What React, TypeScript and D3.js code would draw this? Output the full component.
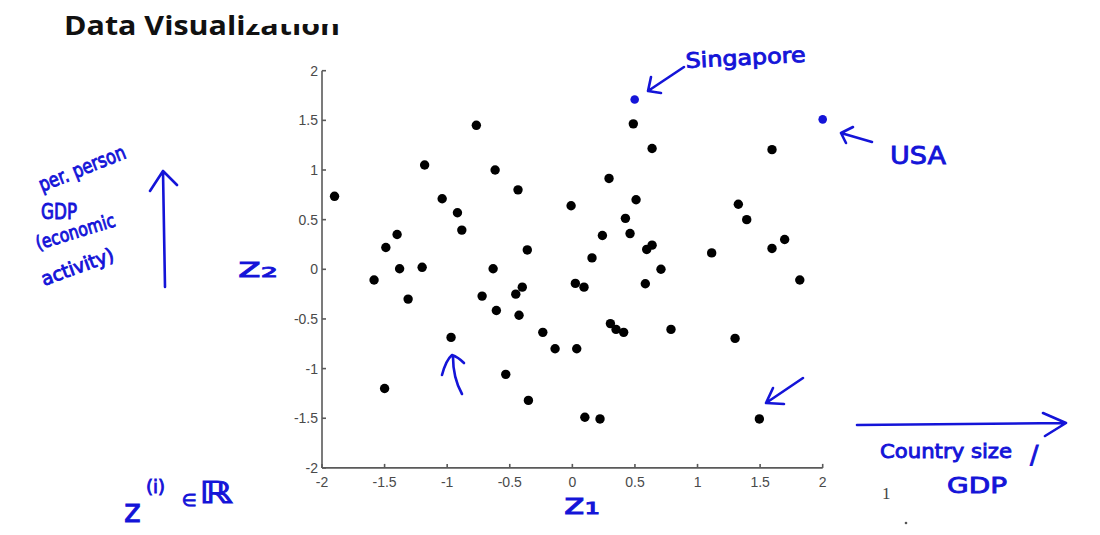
import React from "react";
import * as d3 from "d3";

// Black points: reduced 1-D-ish projection z1, z2 for countries
const z1Values = [
  -1.9, -0.767, -1.18, -0.617, -0.434, -1.04, -0.918, -0.883, -1.4, -1.49,
  -0.36, -1.38, -1.2, -0.633, -0.01, 0.487, 0.637, 1.595, 0.293, 0.509,
  1.326, 0.424, 1.393, 0.24, 0.461, 1.696, 0.157, 0.594, 0.637, 1.595,
  1.113, 0.708, 1.817, -1.584, -1.312, -0.721, -0.4, -0.452, -0.607, -0.426,
  -0.236, -0.138, -0.969, -0.532, -1.5, -0.351, 0.024, 0.093, 0.583, 0.304,
  0.349, 0.41, 0.788, 1.3, 0.035, 0.1, 0.221, 1.494,
];
const z2Values = [
  0.735, 1.45, 1.05, 1.0, 0.8, 0.71, 0.57, 0.395, 0.35, 0.22,
  0.195, 0.006, 0.02, 0.006, 0.64, 1.465, 1.216, 1.205, 0.915, 0.7,
  0.655, 0.513, 0.5, 0.34, 0.36, 0.3, 0.115, 0.2, 0.243, 0.21,
  0.165, 0.0, -0.108, -0.108, -0.3, -0.27, -0.18, -0.25, -0.415, -0.463,
  -0.635, -0.8, -0.686, -1.058, -1.2, -1.32, -0.142, -0.18, -0.146, -0.547,
  -0.605, -0.635, -0.605, -0.696, -0.8, -1.49, -1.507, -1.507,
];

// Highlighted countries
const highlightNames = ["Singapore", "USA"];
const highlightZ1 = [0.498, 2.0];
const highlightZ2 = [1.71, 1.51];

const tickValues = [-2, -1.5, -1, -0.5, 0, 0.5, 1, 1.5, 2];
const tickLabels = ["-2", "-1.5", "-1", "-0.5", "0", "0.5", "1", "1.5", "2"];

const BLUE = "#1414d8";
const AXIS = "#5a5a5a";
const HAND = "'DejaVu Sans', 'Noto Sans', sans-serif";

export default function App() {
  const x = d3.scaleLinear().domain([-2, 2]).range([322, 822.7]);
  const y = d3.scaleLinear().domain([-2, 2]).range([467.9, 70.7]);
  const x0 = x(-2);
  const y0 = y(-2);
  const pen = {
    stroke: BLUE,
    strokeWidth: 2.6,
    fill: "none",
    strokeLinecap: "round" as const,
    strokeLinejoin: "round" as const,
  };

  return (
    <svg
      width={1100}
      height={535}
      style={{ position: "absolute", left: 0, top: 0, background: "#fff" }}
    >
      <rect x={0} y={0} width={1100} height={535} fill="#fff" />
      {/* Title */}
      <defs>
        <clipPath id="titleClip">
          <path d="M0,0 H1100 V535 H0 Z M246,0 H350 V24 H246 Z" clipRule="evenodd" />
        </clipPath>
      </defs>
      <text
        x={64}
        y={35}
        fontFamily="'Open Sans', Lato, sans-serif"
        fontWeight={700}
        fontSize={27}
        textLength={276}
        lengthAdjust="spacingAndGlyphs"
        fill="#111"
        clipPath="url(#titleClip)"
      >
        Data Visualization
      </text>

      {/* Axes */}
      <g stroke={AXIS} strokeWidth={1.6} fill="none">
        <line x1={x0} y1={y(2)} x2={x0} y2={y0} />
        <line x1={x0} y1={y0} x2={x(2)} y2={y0} />
        {tickValues.map((t) => (
          <line key={"xt" + t} x1={x(t)} x2={x(t)} y1={y0} y2={y0 - 4} />
        ))}
        {tickValues.map((t) => (
          <line key={"yt" + t} x1={x0} x2={x0 + 4} y1={y(t)} y2={y(t)} />
        ))}
      </g>
      <g fontFamily="'Liberation Sans', Arial, sans-serif" fontSize={14} fill="#4a4a4a">
        {tickValues.map((t, i) => (
          <text key={"xl" + t} x={x(t)} y={y0 + 19} textAnchor="middle">
            {tickLabels[i]}
          </text>
        ))}
        {tickValues.map((t, i) => (
          <text key={"yl" + t} x={x0 - 4} y={y(t) + 5} textAnchor="end">
            {tickLabels[i]}
          </text>
        ))}
      </g>

      {/* Points */}
      <g fill="#000">
        {z1Values.map((v, i) => (
          <circle key={"p" + i} cx={x(v)} cy={y(z2Values[i])} r={4.7} />
        ))}
      </g>
      <g fill={BLUE}>
        {highlightNames.map((n, i) => (
          <circle key={n} cx={x(highlightZ1[i])} cy={y(highlightZ2[i])} r={4.3} />
        ))}
      </g>

      {/* Handwritten annotations */}
      <g {...pen}>
        {/* Singapore arrow */}
        <path d="M684,67 L648,91 M651,77 L648,91 L661,93" />
        {/* USA arrow */}
        <path d="M872,142 L841,133 M853,127 L841,133 L846,143" />
        {/* arrow to lowest right point */}
        <path d="M803,378 L766,403 M773,388 L766,403 L784,404" />
        {/* up arrow near (-1,-1) */}
        <path d="M462,394 Q453,378 453,357 M442,375 Q446,360 452,355 Q458,357 464,363" />
        {/* vertical GDP arrow */}
        <path d="M165,287 L163,171 M150,191 L163,171 L177,185" />
        {/* horizontal country size arrow */}
        <path d="M857,425 L1066,423 M1043,413 L1066,423 L1045,436" />
      </g>

      <g fill={BLUE} stroke={BLUE} strokeWidth={0.9} fontFamily={HAND}>
        <text x={686} y={68} fontSize={21} textLength={120} lengthAdjust="spacingAndGlyphs" transform="rotate(-3 686 68)">
          Singapore
        </text>
        <text x={890} y={164} fontSize={25} textLength={56} lengthAdjust="spacingAndGlyphs">
          USA
        </text>
        <text x={42} y={192} fontSize={20} textLength={92} lengthAdjust="spacingAndGlyphs" transform="rotate(-22 42 192)">
          per. person
        </text>
        <text x={41} y={219} fontSize={21} textLength={36} lengthAdjust="spacingAndGlyphs">
          GDP
        </text>
        <text x={38} y={250} fontSize={19} textLength={82} lengthAdjust="spacingAndGlyphs" transform="rotate(-17 38 250)">
          (economic
        </text>
        <text x={44} y={286} fontSize={19} textLength={76} lengthAdjust="spacingAndGlyphs" transform="rotate(-20 44 286)">
          activity)
        </text>
        <text x={238} y={277} fontSize={26} textLength={40} lengthAdjust="spacingAndGlyphs">
          z₂
        </text>
        <text x={564} y={514} fontSize={28} textLength={36} lengthAdjust="spacingAndGlyphs">
          z₁
        </text>
        <text x={880} y={458} fontSize={20} textLength={132} lengthAdjust="spacingAndGlyphs">
          Country size
        </text>
        <text x={1030} y={463} fontSize={25}>/</text>
        <text x={947} y={493} fontSize={22} textLength={60} lengthAdjust="spacingAndGlyphs">
          GDP
        </text>
        <text x={124} y={522} fontSize={32}>z</text>
        <text x={146} y={493} fontSize={18}>(i)</text>
        <text x={182} y={506} fontSize={17}>∈</text>
        <text x={199} y={503} fontSize={30} textLength={34} lengthAdjust="spacingAndGlyphs">ℝ</text>
      </g>

      <text x={882} y={499} fontFamily="'Liberation Serif', 'DejaVu Serif', serif" fontSize={17} fill="#444">
        1
      </text>
      <circle cx={906} cy={523} r={1.3} fill="#555" />
    </svg>
  );
}
